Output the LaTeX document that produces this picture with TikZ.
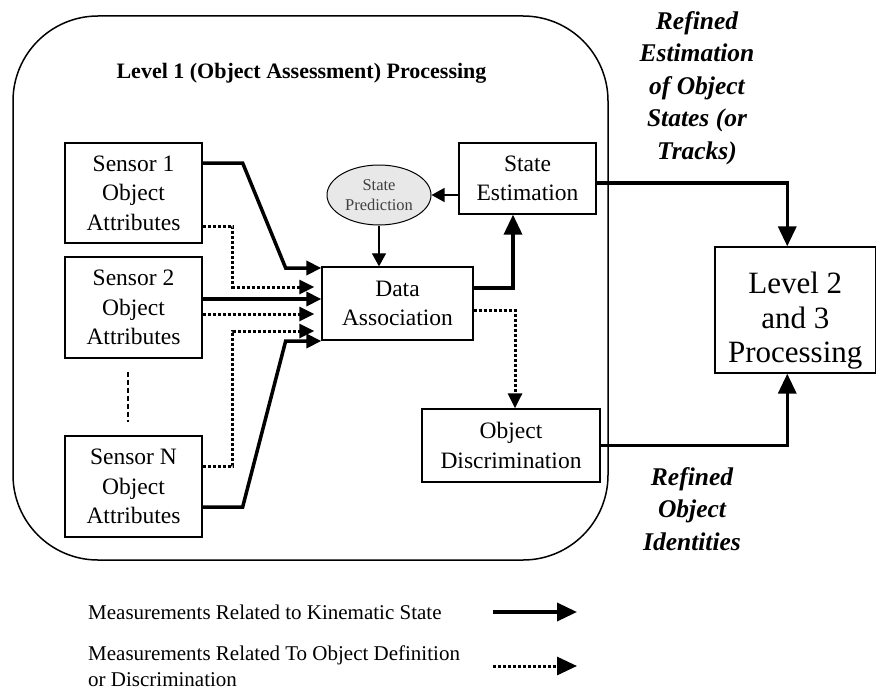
\documentclass[tikz,border=0pt]{standalone}
\usepackage{fontspec}
\setmainfont{Liberation Serif}
\usetikzlibrary{arrows.meta,shapes.geometric}
\begin{document}
\begin{tikzpicture}[x=1pt,y=-1pt,
  box/.style={draw, line width=1.3pt, align=center, inner sep=0pt,
    font=\fontsize{23.5}{29.5}\selectfont},
  kin/.style={line width=3.5pt, -{Triangle[length=20pt,width=18pt]}},
  kinin/.style={line width=3.5pt, -{Triangle[length=15pt,width=14pt]}},
  disc/.style={line width=3pt, dash pattern=on 3pt off 2pt,
    -{Triangle[length=15pt,width=14pt]}},
  discleg/.style={line width=3pt, dash pattern=on 3pt off 2pt,
    -{Triangle[length=20pt,width=18pt]}},
  thinarr/.style={line width=1.2pt, -{Triangle[length=13pt,width=14pt]}},
  lbl/.style={font=\bfseries\itshape\fontsize{25.5}{32.5}\selectfont, align=center},
  legtxt/.style={font=\fontsize{21}{26}\selectfont, align=left, inner sep=0pt}]
\useasboundingbox (0,0) rectangle (877,690);

% Level 1 frame
\node[draw, line width=1.5pt, rounded corners=85pt, minimum width=595pt,
  minimum height=544pt, inner sep=0pt] (frame) at (310.5,288) {};
\node[font=\bfseries\fontsize{22}{26}\selectfont, anchor=base] (title)
  at (301.5,79) {Level 1 (Object Assessment) Processing};

% Sensors
\node[box, minimum width=137pt, minimum height=100pt] (s1) at (133.5,193)
  {Sensor 1\\Object\\Attributes};
\node[box, minimum width=137pt, minimum height=101pt] (s2) at (133.5,307.5)
  {Sensor 2\\Object\\Attributes};
\node[box, minimum width=137pt, minimum height=101pt] (sn) at (133.5,486.5)
  {Sensor N\\Object\\Attributes};

% Processing blocks
\node[box, minimum width=151pt, minimum height=73pt] (da) at (397.5,303.5)
  {Data\\Association};
\node[box, minimum width=137pt, minimum height=71pt] (se) at (527.5,178.5)
  {State\\Estimation};
\node[box, minimum width=178pt, minimum height=73pt] (od) at (511,445.5)
  {Object\\Discrimination};
\node[box, minimum width=160.5pt, minimum height=126pt] (l2) at (795.25,310) {};
\node[align=center, inner sep=0pt, font=\fontsize{31}{34.5}\selectfont]
  (l2txt) at (795.25,321) {Level 2\\and 3\\Processing};
\node[ellipse, draw, line width=1pt, fill=gray!18, minimum width=104pt,
  minimum height=60pt, inner sep=0pt, align=center, text=black!75,
  font=\fontsize{16.5}{20}\selectfont] (sp) at (379,195) {State\\Prediction};

% Output labels
\node[lbl] (outstate) at (697,88)
  {Refined\\Estimation\\of Object\\States (or\\Tracks)};
\node[lbl] (outid) at (692,509) {Refined\\Object\\Identities};

% Ellipsis between sensor 2 and sensor N
\draw[line width=1.2pt, dash pattern=on 5pt off 3pt]
  ([xshift=-5.5pt,yshift=-13pt]s2.south) -- ([xshift=-5.5pt,yshift=13pt]sn.north);

% Sensor inputs to data association
\draw[kinin] ([yshift=30pt]s1.east) -- ++(40,0) -- ++(43,105)
  -- ([yshift=35.5pt]da.west);
\draw[disc] ([yshift=-33pt]s1.east) -- ++(30,0)
  |- ([xshift=-7pt,yshift=16.5pt]da.west);
\draw[kinin] ([yshift=8.5pt]s2.east) -- ([yshift=4.5pt]da.west);
\draw[disc] ([yshift=-6.5pt]s2.east) -- ([xshift=-7pt,yshift=-10.5pt]da.west);
\draw[disc] ([yshift=20.5pt]sn.east) -- ++(30,0)
  |- ([xshift=-7pt,yshift=-27.5pt]da.west);
\draw[kinin] ([yshift=-20.5pt]sn.east) -- ++(40,0) -- ++(43,-166)
  -- ([yshift=-37.5pt]da.west);

% Prediction loop
\draw[thinarr] ([yshift=-16.5pt]se.west) -- (sp.east);
\draw[thinarr] (sp.south) -- (sp.south |- da.north);
\draw[kin] ([yshift=15.5pt]da.east) -| ([xshift=-14.5pt]se.south);
\draw[disc] ([yshift=-6.5pt]da.east) -| ([xshift=4pt]od.north);

% Outputs to level 2 and 3
\draw[kin] ([yshift=-4.5pt]se.east) -| ([xshift=-8pt]l2.north);
\draw[kin] (od.east) -| ([xshift=-8pt]l2.south);

% Legend
\node[legtxt, anchor=base west] (leg1) at (88,619)
  {Measurements Related to Kinematic State};
\node[legtxt, anchor=base west] (leg2) at (88,686)
  {Measurements Related To Object Definition\\or Discrimination};
\coordinate (k1) at (493,612);
\coordinate (k2) at (577,612);
\coordinate (d1) at (493,666);
\coordinate (d2) at (577,666);
\draw[kin] (k1) -- (k2);
\draw[discleg] (d1) -- (d2);
\end{tikzpicture}
\end{document}
